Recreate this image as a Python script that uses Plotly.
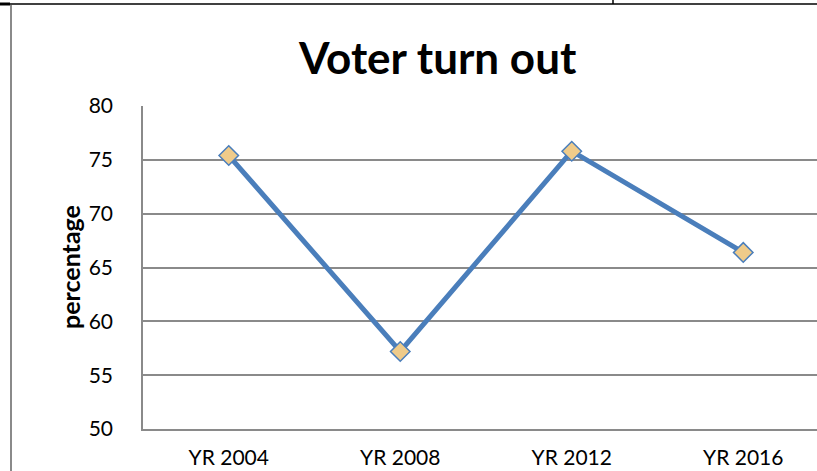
import plotly.graph_objects as go

categories = ["YR 2004", "YR 2008", "YR 2012", "YR 2016"]
turnout = [75.4, 57.2, 75.8, 66.4]
y_ticks = [50, 55, 60, 65, 70, 75, 80]

W, H = 817, 471
L, T, B = 143, 106, 429
PW, PH = W - L, B - T

def px(x):
    return (x - L) / PW

def py(y):
    return (B - y) / PH

FONT = "Lato, 'Open Sans', sans-serif"

fig = go.Figure()
fig.add_trace(go.Scatter(
    x=categories, y=turnout, mode="lines+markers",
    line=dict(color="#4A7EBB", width=5),
    marker=dict(symbol="diamond", size=15, color="#EFCB8A",
                line=dict(color="#4A7EBB", width=1.5)),
    cliponaxis=False, showlegend=False,
))

fig.update_layout(
    width=W, height=H,
    margin=dict(l=L, r=0, t=T, b=H - B, pad=0, autoexpand=False),
    paper_bgcolor="white", plot_bgcolor="white",
    font=dict(family=FONT, size=21, color="black"),
    xaxis=dict(
        type="category", range=[-0.5, -0.5 + PW / 171.5],
        showgrid=False, showline=True, linecolor="#8a8a8a", linewidth=1.5,
        ticks="", ticklabelstandoff=9, zeroline=False, automargin=False,
        tickfont=dict(family=FONT, size=21, color="black"),
    ),
    yaxis=dict(
        range=[50, 80], tickvals=y_ticks, showgrid=True,
        gridcolor="#8a8a8a", gridwidth=1.5,
        showline=True, linecolor="#8a8a8a", linewidth=1.5,
        ticks="", ticklabelstandoff=24, zeroline=False, automargin=False,
        tickfont=dict(family=FONT, size=21, color="black"),
    ),
    annotations=[
        dict(text="<b>Voter turn out</b>", xref="paper", yref="paper",
             x=px(437), y=py(57), xanchor="center", yanchor="middle",
             showarrow=False, font=dict(family=FONT, size=44, color="black")),
        dict(text="<b>percentage</b>", xref="paper", yref="paper",
             x=px(70), y=py(267), xanchor="center", yanchor="middle",
             textangle=-90, showarrow=False,
             font=dict(family=FONT, size=25, color="black")),
    ],
    shapes=[
        dict(type="line", xref="paper", yref="paper",
             x0=px(0), x1=px(W), y0=py(4), y1=py(4),
             line=dict(color="black", width=1.5)),
        dict(type="line", xref="paper", yref="paper",
             x0=px(0), x1=px(10), y0=py(4), y1=py(4),
             line=dict(color="black", width=3)),
        dict(type="line", xref="paper", yref="paper",
             x0=px(613), x1=px(613), y0=py(0), y1=py(4),
             line=dict(color="black", width=1.5)),
        dict(type="line", xref="paper", yref="paper",
             x0=px(11), x1=px(11), y0=py(5), y1=py(H),
             line=dict(color="#8a8a8a", width=2)),
    ],
)

fig.write_html("out.html")
